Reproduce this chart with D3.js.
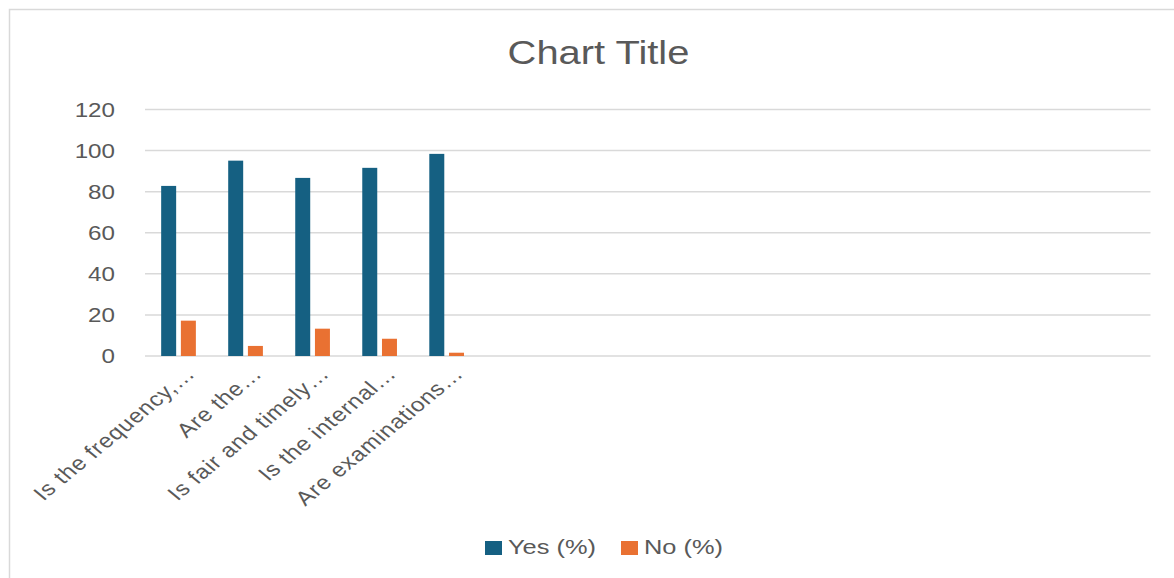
<!DOCTYPE html>
<meta charset="utf-8">
<script src="https://d3js.org/d3.v7.min.js"></script>
<style>
  body { margin: 0; background: #fff; }
  text { font-family: "Liberation Sans", Arial, sans-serif; fill: #595959; }
</style>
<div id="my_dataviz"></div>
<script>

// data
var categories = ["Is the frequency,\u2026", "Are the\u2026", "Is fair and timely\u2026", "Is the internal\u2026", "Are examinations\u2026"];
var seriesNames = ["Yes (%)", "No (%)"];
var yesValues = [82.8, 95.1, 86.7, 91.6, 98.4];
var noValues = [17.2, 4.9, 13.3, 8.4, 1.6];
var yTicks = [0, 20, 40, 60, 80, 100, 120];
var colors = ["#156082", "#E97132"];
var slots = 15; // the axis has room for 15 categories, only 5 are filled

// the source picture is stretched sideways, so text gets a horizontal scale
var sx = 1.21;

var W = 1174, H = 578;
var margin = {top: 109.5, right: 23.5, bottom: 222, left: 145},
    width = W - margin.left - margin.right,
    height = H - margin.top - margin.bottom;

var root = d3.select("#my_dataviz")
  .append("svg")
    .attr("width", W)
    .attr("height", H);

// chart frame
root.append("rect")
  .attr("x", 9.5).attr("y", 9.5)
  .attr("width", W + 20).attr("height", H + 20)
  .attr("fill", "none")
  .attr("stroke", "#d9d9d9")
  .attr("stroke-width", 1.5);

root.append("text")
  .attr("transform", "translate(598.5,64) scale(" + sx + ",1)")
  .attr("text-anchor", "middle")
  .style("font-size", "33px")
  .text("Chart Title");

var svg = root.append("g")
  .attr("transform", "translate(" + margin.left + "," + margin.top + ")");

var y = d3.scaleLinear().domain([0, 120]).range([height, 0]);

var x0 = d3.scaleBand()
  .domain(d3.range(slots))
  .range([0, width])
  .padding(0);

var x1 = d3.scaleBand()
  .domain(seriesNames)
  .range([0, x0.bandwidth()])
  .paddingInner(0.24)
  .paddingOuter(0.82);

// gridlines
svg.selectAll(".grid")
  .data(yTicks)
  .enter()
  .append("line")
    .attr("x1", 0).attr("x2", width)
    .attr("y1", function(d) { return y(d); })
    .attr("y2", function(d) { return y(d); })
    .attr("stroke", "#d9d9d9")
    .attr("stroke-width", 1.5);

// y labels
svg.selectAll(".ylab")
  .data(yTicks)
  .enter()
  .append("text")
    .attr("transform", function(d) { return "translate(-30," + y(d) + ") scale(" + sx + ",1)"; })
    .attr("dy", "0.35em")
    .attr("text-anchor", "end")
    .style("font-size", "20px")
    .text(function(d) { return d; });

// bars
var groups = svg.selectAll(".grp")
  .data(categories)
  .enter()
  .append("g")
    .attr("transform", function(d, i) { return "translate(" + x0(i) + ",0)"; });

groups.selectAll("rect")
  .data(function(d, i) { return [yesValues[i], noValues[i]]; })
  .enter()
  .append("rect")
    .attr("x", function(d, j) { return x1(seriesNames[j]); })
    .attr("width", x1.bandwidth())
    .attr("y", function(d) { return y(d); })
    .attr("height", function(d) { return y(0) - y(d); })
    .attr("fill", function(d, j) { return colors[j]; });

// category labels
svg.selectAll(".xlab")
  .data(categories)
  .enter()
  .append("text")
    .attr("transform", function(d, i) {
      return "translate(" + (x0(i) + x0.bandwidth() / 2 + 12) + "," + (height + 14) +
        ") scale(" + sx + ",1) rotate(-45)";
    })
    .attr("text-anchor", "end")
    .attr("dy", "0.35em")
    .style("font-size", "20px")
    .style("letter-spacing", "0.7px")
    .text(function(d) { return d; });

// legend
var legend = root.append("g").attr("transform", "translate(485,541)");
var lx = [0, 136];
seriesNames.forEach(function(name, i) {
  legend.append("rect")
    .attr("x", lx[i]).attr("y", 0)
    .attr("width", 17).attr("height", 14)
    .attr("fill", colors[i]);
  legend.append("text")
    .attr("transform", "translate(" + (lx[i] + 23) + ",13) scale(" + sx + ",1)")
    .style("font-size", "21px")
    .text(name);
});

</script>
